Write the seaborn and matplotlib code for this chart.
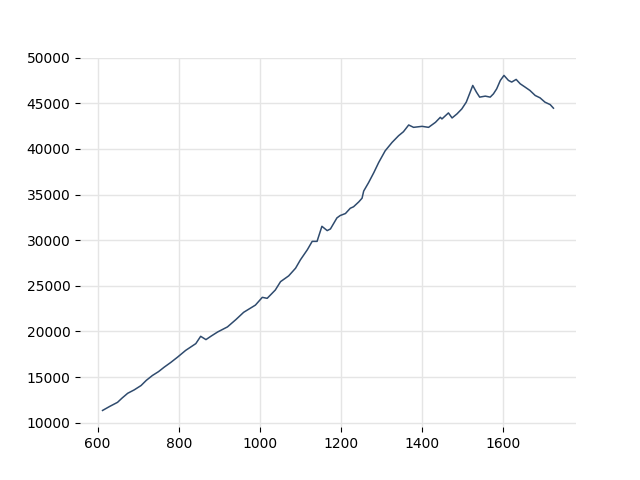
import matplotlib
matplotlib.use("Agg")
import matplotlib.pyplot as plt
import seaborn as sns
import pandas as pd

x_vals = [612, 630, 649, 660, 674, 690, 707, 720, 735, 750, 764, 780, 797, 817, 842, 854, 867,
          880, 896, 920, 941, 960, 989, 1006, 1018, 1038, 1051, 1071, 1088, 1100, 1117, 1129,
          1141, 1153, 1166, 1174, 1190, 1198, 1211, 1223, 1231, 1244, 1252, 1256, 1268, 1281,
          1293, 1309, 1326, 1342, 1354, 1367, 1379, 1400, 1416, 1433, 1445, 1449, 1465, 1474,
          1486, 1498, 1509, 1517, 1525, 1534, 1542, 1556, 1568, 1576, 1584, 1593, 1602, 1613,
          1621, 1632, 1642, 1654, 1666, 1679, 1691, 1703, 1716, 1724]
y_vals = [11350, 11800, 12240, 12700, 13230, 13600, 14080, 14650, 15180, 15600, 16090, 16600,
          17190, 17930, 18670, 19470, 19110, 19500, 19950, 20500, 21310, 22100, 22890, 23740,
          23630, 24540, 25460, 26090, 26930, 27850, 28950, 29870, 29870, 31520, 31050, 31230,
          32440, 32700, 32920, 33500, 33660, 34200, 34600, 35380, 36300, 37400, 38510, 39790,
          40710, 41440, 41880, 42620, 42360, 42470, 42360, 42910, 43460, 43280, 43940, 43390,
          43830, 44380, 45120, 46030, 46950, 46220, 45670, 45780, 45670, 46030, 46580, 47500,
          48050, 47500, 47320, 47610, 47130, 46770, 46400, 45850, 45590, 45120, 44850, 44460]

df = pd.DataFrame({"x": x_vals, "y": y_vals})

fig, ax = plt.subplots(figsize=(6.4, 4.8), dpi=100)
sns.lineplot(data=df, x="x", y="y", ax=ax, color="#2f4b6e", linewidth=1.1)
ax.set_xlabel("")
ax.set_ylabel("")
ax.grid(True, color="#e5e5e5", linewidth=1)
ax.set_axisbelow(True)
for s in ax.spines.values():
    s.set_visible(False)
ax.set_xticks([600, 800, 1000, 1200, 1400, 1600])
ax.set_yticks([10000, 15000, 20000, 25000, 30000, 35000, 40000, 45000, 50000])
fig.savefig("out.png", dpi=100)
